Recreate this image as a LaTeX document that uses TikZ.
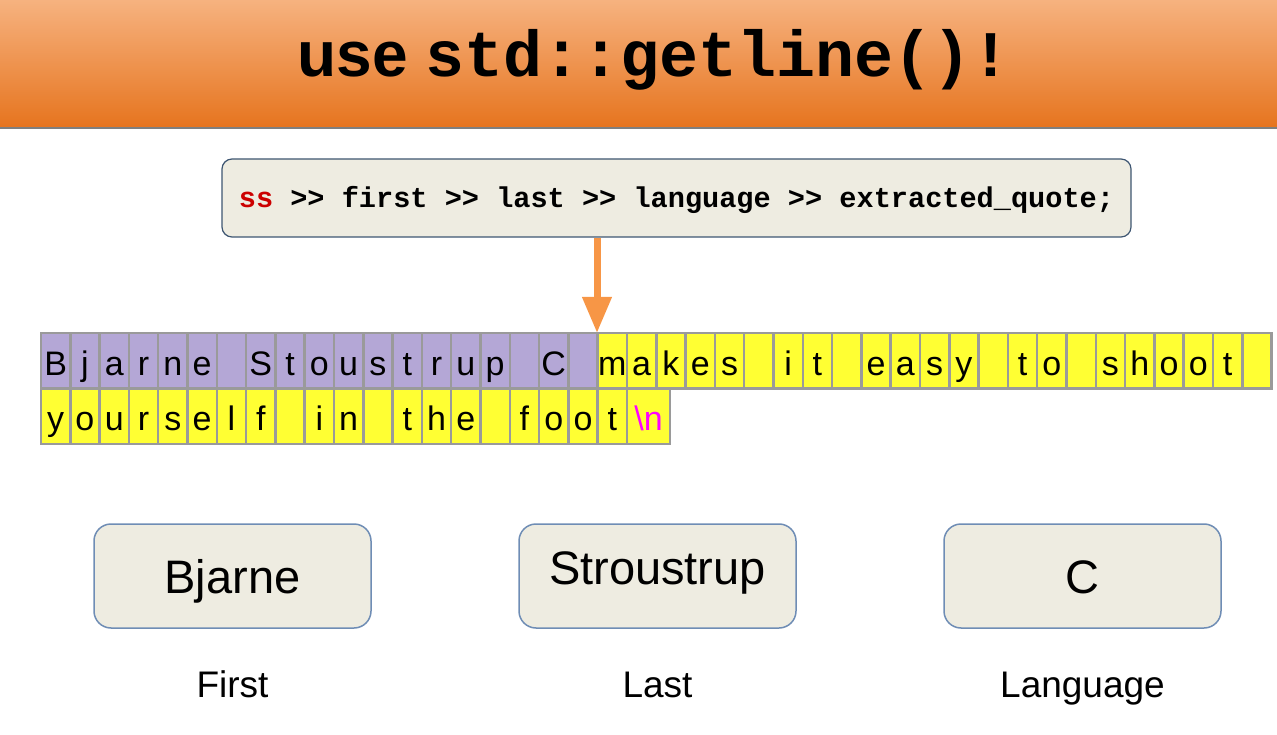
\documentclass[tikz,border=0pt]{standalone}
\usepackage{fontspec}
\setmainfont{Liberation Sans}
\setmonofont{Liberation Mono}
\usetikzlibrary{arrows.meta}

\definecolor{hdrtop}{HTML}{F6B27F}
\definecolor{hdrbot}{HTML}{E6741E}
\definecolor{hdrline}{HTML}{7F7F7F}
\definecolor{beige}{HTML}{EEECE1}
\definecolor{codeedge}{HTML}{3E5672}
\definecolor{boxedge}{HTML}{6F8DB5}
\definecolor{codered}{HTML}{CC0000}
\definecolor{arrorange}{HTML}{F79646}
\definecolor{cellgray}{HTML}{9A9A9A}
\definecolor{cellpurple}{HTML}{B4A7D6}
\definecolor{cellyellow}{HTML}{FFFF33}
\definecolor{nlmagenta}{HTML}{FF00FF}

\begin{document}
\begin{tikzpicture}[x=1pt,y=-1pt,
  cell/.style={draw=cellgray, line width=2.5pt, minimum width=29.3pt, minimum height=55.5pt,
    inner sep=0pt, outer sep=0pt, text height=29pt, text depth=0pt, font=\fontsize{34}{34}\selectfont},
  codebox/.style={draw=codeedge, fill=beige, line width=1.2pt, rounded corners=10pt,
    minimum width=909pt, minimum height=78pt, text height=20pt, text depth=0pt,
    font=\ttfamily\bfseries\fontsize{28.6}{28.6}\selectfont},
  wordbox/.style={draw=boxedge, fill=beige, line width=1.5pt, rounded corners=17pt,
    minimum width=277pt, minimum height=104pt, text height=34pt, text depth=0pt,
    font=\fontsize{47}{47}\selectfont},
  lbl/.style={anchor=base, font=\fontsize{37}{37}\selectfont},
  arr/.style={draw=arrorange, line width=7pt, -{Triangle[length=36pt,width=28pt]}}]
\useasboundingbox (0,0) rectangle (1277,735);

% title bar:
\shade[top color=hdrtop, bottom color=hdrbot] (0,0) rectangle (1277,128);
\draw[hdrline, line width=1.5pt] (0,128) -- (1277,128);
\node[anchor=base] (title) at (654,77)
  {\fontsize{64}{64}\selectfont\bfseries use {\ttfamily\fontsize{65}{65}\selectfont std::getline()!}};

% statement:
\node[codebox] (code) at (676.5,198)
  {\textcolor{codered}{ss} >{}> first >{}> last >{}> language >{}> extracted\_quote;};
\coordinate (tip) at (597,333);
\draw[arr] (code.south -| tip) -- (tip);

% stream buffer, first line:
\foreach \ch [count=\i from 0] in {B,j,a,r,n,e,{},S,t,o,u,s,t,r,u,p,{},C,{},
    m,a,k,e,s,{},i,t,{},e,a,s,y,{},t,o,{},s,h,o,o,t,{}}{
  \ifnum\i<19 \def\cfill{cellpurple}\else\def\cfill{cellyellow}\fi
  \node[cell, fill=\cfill] (top\i) at ({41+29.3*(\i+0.5)},360.75) {\ch};
}
% stream buffer, second line:
\foreach \ch [count=\i from 0] in {y,o,u,r,s,e,l,f,{},i,n,{},t,h,e,{},f,o,o,t}{
  \node[cell, fill=cellyellow] (bot\i) at ({41+29.3*(\i+0.5)},416.25) {\ch};
}
\node[cell, fill=cellyellow, anchor=west, minimum width=43pt, text=nlmagenta] (newline)
  at (bot19.east) {\textbackslash n};

% extracted words:
\node[wordbox] (first) at (232.5,576) {Bjarne};
\node[wordbox, text depth=18pt] (last) at (657.5,576) {Stroustrup};
\node[wordbox] (lang) at (1082.5,576) {C};

\node[lbl] (firstlbl) at (232.5,697) {First};
\node[lbl] (lastlbl) at (657.5,697) {Last};
\node[lbl] (langlbl) at (1082.5,697) {Language};
\end{tikzpicture}
\end{document}
